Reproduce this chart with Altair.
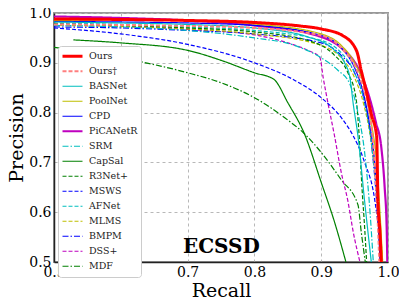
import altair as alt
import pandas as pd

models = ["Ours", "Ours\u2020", "BASNet", "PoolNet", "CPD", "PiCANetR", "SRM", "CapSal",
          "R3Net+", "MSWS", "AFNet", "MLMS", "BMPM", "DSS+", "MDF"]
colors = ["#ff0000", "#ff7f7f", "#00bfbf", "#bfbf00", "#0000ff", "#bf00bf", "#00bfbf", "#008000",
          "#008000", "#0000ff", "#00bfbf", "#bfbf00", "#0000ff", "#bf00bf", "#008000"]
dashes = [[1, 0], [4, 2], [1, 0], [1, 0], [1, 0], [1, 0], [6, 2, 1.5, 2], [1, 0],
          [4, 2], [4, 2], [4, 2], [4, 2], [6, 2, 1.5, 2], [4, 2], [6, 2, 1.5, 2]]
widths = [3, 2, 1.2, 1.2, 1.2, 2.2, 1.2, 1.2, 1.2, 1.2, 1.2, 1.2, 1.2, 1.2, 1.2]

recall = {
    "Ours": [0.5, 0.6, 0.7, 0.8, 0.868, 0.9, 0.933, 0.953, 0.960, 0.968, 0.975, 0.983, 0.985, 0.988, 0.990],
    "Ours\u2020": [0.5, 0.6, 0.7, 0.8, 0.9, 0.93, 0.955, 0.965, 0.972, 0.98, 0.984, 0.987],
    "BASNet": [0.5, 0.6, 0.7, 0.8, 0.88, 0.92, 0.935, 0.943, 0.948, 0.955, 0.965, 0.975],
    "PoolNet": [0.5, 0.6, 0.7, 0.8, 0.9, 0.93, 0.95, 0.965, 0.975, 0.983, 0.988, 0.992],
    "CPD": [0.5, 0.6, 0.7, 0.8, 0.9, 0.93, 0.95, 0.963, 0.972, 0.98, 0.985, 0.988],
    "PiCANetR": [0.5, 0.6, 0.7, 0.8, 0.9, 0.93, 0.955, 0.97, 0.982, 0.99, 0.995, 0.998, 0.999],
    "SRM": [0.5, 0.6, 0.7, 0.8, 0.86, 0.9, 0.925, 0.943, 0.955, 0.965, 0.972, 0.978],
    "CapSal": [0.529, 0.6, 0.7, 0.75, 0.8, 0.829, 0.85, 0.875, 0.9, 0.92, 0.937],
    "R3Net+": [0.5, 0.6, 0.7, 0.8, 0.88, 0.92, 0.94, 0.952, 0.957, 0.961, 0.965, 0.968],
    "MSWS": [0.5, 0.6, 0.7, 0.8, 0.86, 0.9, 0.93, 0.948, 0.965, 0.98, 0.987, 0.99],
    "AFNet": [0.5, 0.6, 0.7, 0.8, 0.9, 0.93, 0.95, 0.965, 0.975, 0.982, 0.986, 0.99],
    "MLMS": [0.5, 0.6, 0.7, 0.8, 0.9, 0.93, 0.95, 0.963, 0.975, 0.983, 0.988, 0.992],
    "BMPM": [0.5, 0.6, 0.7, 0.8, 0.9, 0.93, 0.95, 0.965, 0.975, 0.982, 0.986, 0.989],
    "DSS+": [0.5, 0.6, 0.7, 0.8, 0.85, 0.88, 0.898, 0.903, 0.91, 0.92, 0.93, 0.94, 0.948, 0.958],
    "MDF": [0.5, 0.6, 0.7, 0.75, 0.8, 0.85, 0.873, 0.9, 0.93, 0.955, 0.96, 0.966],
}
precision = {
    "Ours": [0.988, 0.987, 0.985, 0.981, 0.974, 0.968, 0.954, 0.924, 0.884, 0.84, 0.797, 0.753, 0.622, 0.56, 0.50],
    "Ours\u2020": [0.977, 0.976, 0.974, 0.970, 0.955, 0.93, 0.88, 0.84, 0.80, 0.70, 0.60, 0.50],
    "BASNet": [0.982, 0.980, 0.977, 0.970, 0.952, 0.925, 0.90, 0.870, 0.817, 0.753, 0.622, 0.50],
    "PoolNet": [0.985, 0.986, 0.985, 0.978, 0.958, 0.935, 0.90, 0.85, 0.78, 0.70, 0.60, 0.50],
    "CPD": [0.983, 0.982, 0.980, 0.975, 0.955, 0.93, 0.89, 0.84, 0.78, 0.70, 0.60, 0.50],
    "PiCANetR": [0.993, 0.990, 0.985, 0.975, 0.952, 0.93, 0.89, 0.84, 0.78, 0.73, 0.65, 0.57, 0.50],
    "SRM": [0.975, 0.972, 0.965, 0.950, 0.935, 0.91, 0.885, 0.857, 0.80, 0.72, 0.62, 0.50],
    "CapSal": [0.946, 0.940, 0.925, 0.905, 0.880, 0.867, 0.82, 0.757, 0.66, 0.58, 0.50],
    "R3Net+": [0.978, 0.975, 0.970, 0.962, 0.945, 0.915, 0.88, 0.83, 0.75, 0.65, 0.57, 0.50],
    "MSWS": [0.970, 0.958, 0.937, 0.900, 0.865, 0.83, 0.79, 0.753, 0.70, 0.626, 0.55, 0.50],
    "AFNet": [0.980, 0.977, 0.972, 0.965, 0.945, 0.92, 0.88, 0.82, 0.74, 0.65, 0.57, 0.50],
    "MLMS": [0.975, 0.973, 0.968, 0.958, 0.935, 0.91, 0.87, 0.82, 0.74, 0.65, 0.57, 0.50],
    "BMPM": [0.972, 0.970, 0.965, 0.958, 0.940, 0.915, 0.88, 0.82, 0.74, 0.64, 0.56, 0.50],
    "DSS+": [0.976, 0.973, 0.967, 0.956, 0.940, 0.925, 0.911, 0.87, 0.82, 0.753, 0.68, 0.622, 0.56, 0.50],
    "MDF": [0.931, 0.910, 0.880, 0.860, 0.830, 0.785, 0.760, 0.720, 0.665, 0.615, 0.56, 0.50],
}

x_ticks = [0.5, 0.6, 0.7, 0.8, 0.9, 1.0]
y_ticks = [0.5, 0.6, 0.7, 0.8, 0.9, 1.0]

rows = []
for m in reversed(models):  # Ours drawn last (on top)
    for r, p in zip(recall[m], precision[m]):
        rows.append({"model": m, "recall": r, "precision": p})
df = pd.DataFrame(rows)

FONT = "DejaVu Serif"
legend = alt.Legend(
    title=None, orient="none", legendX=4, legendY=33,
    symbolType="stroke", symbolSize=400, labelFont=FONT, labelFontSize=9.5,
    labelColor="#222", fillColor="white", strokeColor="#cccccc", cornerRadius=3,
    padding=3, rowPadding=0, clipHeight=14.5, symbolOffset=0, labelOffset=5
)

lines = alt.Chart(df).mark_line(clip=True, interpolate="monotone").encode(
    x=alt.X("recall:Q", scale=alt.Scale(domain=[0.5, 1.0], nice=False),
            axis=alt.Axis(title="Recall", values=x_ticks, format=".1f")),
    y=alt.Y("precision:Q", scale=alt.Scale(domain=[0.5, 1.0], nice=False),
            axis=alt.Axis(title="Precision", values=y_ticks, format=".1f")),
    color=alt.Color("model:N", scale=alt.Scale(domain=models, range=colors), legend=legend),
    strokeDash=alt.StrokeDash("model:N", scale=alt.Scale(domain=models, range=dashes), legend=legend),
    strokeWidth=alt.StrokeWidth("model:N", scale=alt.Scale(type="ordinal", domain=models, range=widths), legend=legend),
    order=alt.Order("recall:Q"),
)

ann = pd.DataFrame({"recall": [0.7506], "precision": [0.518], "label": ["ECSSD"]})
text = alt.Chart(ann).mark_text(font=FONT, fontSize=20, fontWeight="bold",
                                baseline="alphabetic", align="center", color="black").encode(
    x="recall:Q", y="precision:Q", text="label:N")

chart = alt.layer(lines, text).properties(
    width=334, height=249,
    autosize=alt.AutoSizeParams(type="none"),
    padding={"left": 46, "top": 5, "right": 11, "bottom": 37},
).configure_view(stroke="#999999", strokeWidth=2).configure_axis(
    labelFont=FONT, titleFont=FONT, labelFontSize=14, titleFontSize=19,
    titleFontWeight="normal", labelColor="black", titleColor="black",
    grid=True, gridColor="#b8b8b8", gridDash=[3, 3], gridWidth=1,
    ticks=False, domainColor="#222", domainWidth=1.5, labelPadding=3,
).configure_axisX(titlePadding=2, labelFlush=False).configure_axisY(titlePadding=2, labelFlush=False)

chart.save("out.html", embed_options={"renderer": "svg", "actions": False})
